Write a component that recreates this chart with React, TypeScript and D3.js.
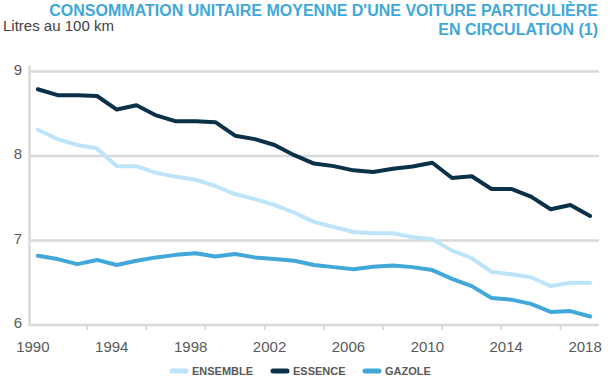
import React from "react";
import * as d3 from "d3";

const years = [1990,1991,1992,1993,1994,1995,1996,1997,1998,1999,2000,2001,2002,2003,2004,2005,2006,2007,2008,2009,2010,2011,2012,2013,2014,2015,2016,2017,2018];
const ensemble = [8.31,8.20,8.13,8.09,7.88,7.88,7.80,7.755,7.72,7.645,7.55,7.49,7.42,7.33,7.22,7.16,7.10,7.085,7.085,7.04,7.015,6.88,6.79,6.63,6.60,6.565,6.46,6.50,6.50];
const essence = [8.79,8.72,8.72,8.71,8.55,8.60,8.48,8.41,8.41,8.40,8.24,8.20,8.13,8.01,7.91,7.88,7.83,7.81,7.85,7.875,7.92,7.74,7.76,7.61,7.61,7.52,7.37,7.42,7.29];
const gazole = [6.82,6.78,6.72,6.77,6.71,6.76,6.80,6.83,6.85,6.81,6.84,6.80,6.78,6.76,6.71,6.685,6.66,6.69,6.705,6.685,6.65,6.545,6.46,6.32,6.30,6.25,6.155,6.165,6.10];
const yTicks = [6, 7, 8, 9];
const xLabelYears = [1990, 1994, 1998, 2002, 2006, 2010, 2014, 2018];
const xTickYears = [1992, 1995, 1998, 2001, 2004, 2007, 2010, 2013, 2016];
const seriesNames = ["ENSEMBLE", "ESSENCE", "GAZOLE"];
const seriesColors = ["#bde4f8", "#0b3148", "#41a8d9"];
const titleLines = ["CONSOMMATION UNITAIRE MOYENNE D'UNE VOITURE PARTICULIÈRE", "EN CIRCULATION (1)"];
const unitLabel = "Litres au 100 km";

export default function App() {
  const W = 609, H = 382;
  const x = d3.scaleLinear().domain([1989.55, 2018.45]).range([29, 599]);
  const y = d3.scaleLinear().domain([6, 9]).range([325, 71.5]);
  const line = d3.line<number>().x((_, i) => x(years[i])).y((d) => y(d));
  const data = [ensemble, essence, gazole];
  const font = "'Liberation Sans', Arial, sans-serif";
  const legendX = [170, 271, 363];
  return (
    <svg width={W} height={H} style={{ position: "absolute", left: 0, top: 0, background: "#fff" }} fontFamily={font}>
      {titleLines.map((t, i) => (
        <text key={i} x={598} y={16 + i * 18.5} textAnchor="end" fontSize={16} fontWeight="bold" fill="#41a8d9">{t}</text>
      ))}
      <text x={3} y={31} fontSize={15} fill="#404040">{unitLabel}</text>
      {yTicks.map((v) => (
        <g key={v}>
          <line x1={29} x2={599} y1={y(v)} y2={y(v)} stroke="#d9d9d9" strokeWidth={2.5} />
          <text x={22} y={y(v) + 3} textAnchor="end" fontSize={15} fill="#595959">{v}</text>
        </g>
      ))}
      <line x1={29.5} x2={29.5} y1={y(9) - 6} y2={y(6) + 1} stroke="#d9d9d9" strokeWidth={2.5} />
      {xTickYears.map((yr) => (
        <line key={yr} x1={x(yr + 0.5)} x2={x(yr + 0.5)} y1={y(6)} y2={y(6) + 5} stroke="#d9d9d9" strokeWidth={2} />
      ))}
      {xLabelYears.map((yr) => (
        <text key={yr} x={x(yr) - 5} y={352} textAnchor="middle" fontSize={15} fill="#595959">{yr}</text>
      ))}
      {data.map((d, i) => (
        <path key={i} d={line(d) || ""} fill="none" stroke={seriesColors[i]} strokeWidth={4} strokeLinejoin="round" strokeLinecap="round" />
      ))}
      {seriesNames.map((n, i) => (
        <g key={n}>
          <line x1={legendX[i] + 2} x2={legendX[i] + 16} y1={371} y2={371} stroke={seriesColors[i]} strokeWidth={5} strokeLinecap="round" />
          <text x={legendX[i] + 22} y={375} fontSize={11} fontWeight="bold" fill="#595959">{n}</text>
        </g>
      ))}
    </svg>
  );
}
